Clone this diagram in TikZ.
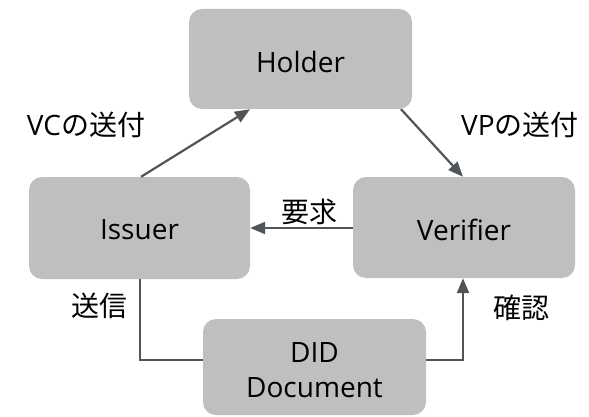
\documentclass[tikz,border=0pt]{standalone}
\usepackage{fontspec}
\setmainfont{Open Sans}
\newfontfamily\jp{Noto Sans CJK JP}
\usetikzlibrary{arrows.meta,calc}
\definecolor{boxfill}{HTML}{BEBFBE}
\definecolor{linkgray}{HTML}{50555A}
\tikzset{
  party/.style={draw=none, fill=boxfill, rounded corners=13pt, inner sep=0pt},
  partytext/.style={inner sep=0pt, align=center, font=\fontsize{28}{35}\selectfont},
  lbl/.style={inner sep=0pt, font=\fontsize{28}{32}\selectfont},
  link/.style={draw=linkgray, line width=2.2pt},
  flow/.style={link, -{Triangle[length=15pt,width=12pt]}}
}
\begin{document}
\begin{tikzpicture}[x=1pt,y=-1pt]
  \useasboundingbox (0,0) rectangle (589,417);
  % the four parties
  \node[party, minimum width=223pt, minimum height=100pt] (holder) at (300.5,59) {};
  \node[partytext] (holdertext) at (300.5,62) {Holder};
  \node[party, minimum width=221pt, minimum height=102pt] (issuer) at (139.5,228) {};
  \node[partytext] (issuertext) at (139.5,230) {Issuer};
  \node[party, minimum width=222pt, minimum height=101pt] (verifier) at (464,227.5) {};
  \node[partytext] (verifiertext) at (464,230) {Verifier};
  \node[party, minimum width=223pt, minimum height=96pt] (did) at (314.5,367) {};
  \node[partytext] (didtext) at (314.5,370) {DID\\Document};
  % credential flow
  \draw[flow] (issuer.north -| 141,0) -- (holder.south -| 250,0);
  \draw[flow] (holder.south -| 401,0) -- (verifier.north -| 463,0);
  \draw[flow] (verifier.west |- 0,228) -- (issuer.east |- 0,228);
  \draw[link] (issuer.south -| 140,0) |- (did.west |- 0,360);
  \draw[flow] (did.east |- 0,360) -| (verifier.south -| 463,0);
  % labels
  \node[lbl] (vc) at (86,125) {VC{\jp の送付}};
  \node[lbl] (vp) at (520,125) {VP{\jp の送付}};
  \node[lbl] (req) at (309,212) {\jp 要求};
  \node[lbl] (send) at (99,306) {\jp 送信};
  \node[lbl] (chk) at (521,308) {\jp 確認};
\end{tikzpicture}
\end{document}
